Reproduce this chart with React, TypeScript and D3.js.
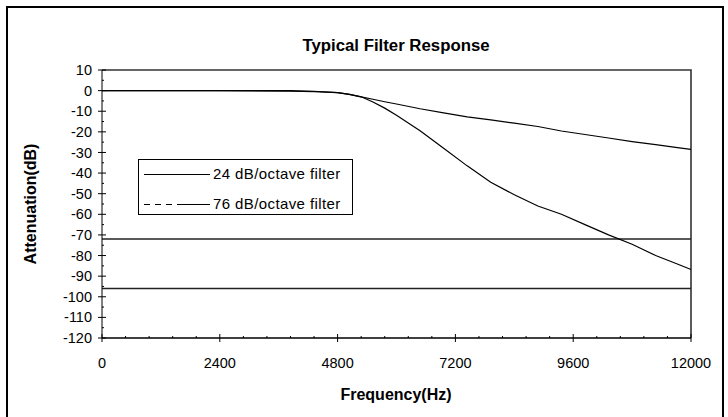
import * as d3 from "d3"

// frequency points (Hz) and attenuation (dB) for both filters
const freqs = [0, 2400, 3840, 4320, 4800, 5040, 5280, 5520, 5760, 6000, 6480, 6960, 7440, 7920, 8400, 8880, 9360, 9840, 10320, 10800, 11280, 11760, 12000]
const filter24 = [0, 0, 0, -0.3, -1, -1.8, -3, -4.2, -5.4, -6.5, -8.8, -10.8, -12.7, -14.2, -15.8, -17.4, -19.6, -21.3, -23, -24.7, -26.2, -27.8, -28.5]
const filter76 = [0, 0, -0.3, -0.5, -1, -1.8, -3, -5.5, -8.5, -12, -19.5, -28, -36.5, -44.5, -50.5, -56, -60, -65, -70, -74.5, -80, -84.5, -86.8]
const refLevels = [-72, -96]

const xTicks = [0, 2400, 4800, 7200, 9600, 12000]
const yTicks = [10, 0, -10, -20, -30, -40, -50, -60, -70, -80, -90, -100, -110, -120]
const legendLabels = ["24 dB/octave filter", "76 dB/octave filter"]

const W = 728
const H = 417
const margin = { top: 70, right: 37, bottom: 79, left: 102 }
const font = "'Liberation Sans', Arial, sans-serif"

export default function App() {
  const x = d3.scaleLinear().domain([0, 12000]).range([margin.left, W - margin.right])
  const y = d3.scaleLinear().domain([-120, 10]).range([H - margin.bottom, margin.top])

  const line = d3
    .line<[number, number]>()
    .x((d) => x(d[0]))
    .y((d) => y(d[1]))

  const minorX = d3.range(0, 12001, 480).filter((v) => !xTicks.includes(v))
  const minorY = d3.range(-115, 10, 10)

  const [x0, x1] = x.range()
  const [y0, y1] = y.range()

  return (
    <svg width={W} height={H} style={{ position: "absolute", left: 0, top: 0 }} fontFamily={font}>
      <rect x={0} y={0} width={W} height={H} fill="white" />
      <rect x={7} y={7} width={716} height={412} fill="none" stroke="black" strokeWidth={2} />

      <text x={396} y={51} textAnchor="middle" fontSize={16.8} fontWeight="bold">
        Typical Filter Response
      </text>

      {/* plot frame: top and right */}
      <path d={`M${x0},${y1}H${x1}V${y0}`} fill="none" stroke="#333" strokeWidth={1.6} />

      {/* reference levels */}
      {refLevels.map((v) => (
        <line key={v} x1={x0} x2={x1} y1={y(v)} y2={y(v)} stroke="#222" strokeWidth={1.4} />
      ))}

      {/* axes */}
      <line x1={x0} x2={x0} y1={y1} y2={y0} stroke="black" strokeWidth={1} />
      <line x1={x0} x2={x1} y1={y0} y2={y0} stroke="black" strokeWidth={1.4} />
      {yTicks.map((v) => (
        <g key={v}>
          <line x1={x0 - 4} x2={x0 + 4} y1={y(v)} y2={y(v)} stroke="black" />
          <text x={x0 - 10} y={y(v)} dy="0.35em" textAnchor="end" fontSize={14.5}>
            {v}
          </text>
        </g>
      ))}
      {minorY.map((v) => (
        <line key={v} x1={x0} x2={x0 + 2} y1={y(v)} y2={y(v)} stroke="black" />
      ))}
      {xTicks.map((v) => (
        <g key={v}>
          <line x1={x(v)} x2={x(v)} y1={y0 - 4} y2={y0 + 4} stroke="black" />
          <text x={x(v)} y={y0 + 30} textAnchor="middle" fontSize={14.5}>
            {v}
          </text>
        </g>
      ))}
      {minorX.map((v) => (
        <line key={v} x1={x(v)} x2={x(v)} y1={y0} y2={y0 - 2} stroke="black" />
      ))}

      {/* curves */}
      <path d={line(freqs.map((f, i) => [f, filter24[i]]))!} fill="none" stroke="black" strokeWidth={1.2} />
      <path d={line(freqs.map((f, i) => [f, filter76[i]]))!} fill="none" stroke="black" strokeWidth={1.2} />

      {/* legend */}
      <rect x={138.5} y={159.5} width={214} height={55} fill="white" stroke="black" strokeWidth={1} />
      <line x1={144} x2={210} y1={174.5} y2={174.5} stroke="black" />
      <line x1={144} x2={210} y1={204.5} y2={204.5} stroke="black" strokeDasharray="6,5,6,5,6,5,33" />
      {legendLabels.map((t, i) => (
        <text key={t} x={213} y={174 + i * 30} dy="0.35em" fontSize={15} letterSpacing={0.4}>
          {t}
        </text>
      ))}

      <text
        transform={`translate(36,${(y0 + y1) / 2}) rotate(-90)`}
        textAnchor="middle"
        fontSize={16}
        fontWeight="bold"
      >
        Attenuation(dB)
      </text>
      <text x={396} y={400} textAnchor="middle" fontSize={16} fontWeight="bold">
        Frequency(Hz)
      </text>
    </svg>
  )
}
